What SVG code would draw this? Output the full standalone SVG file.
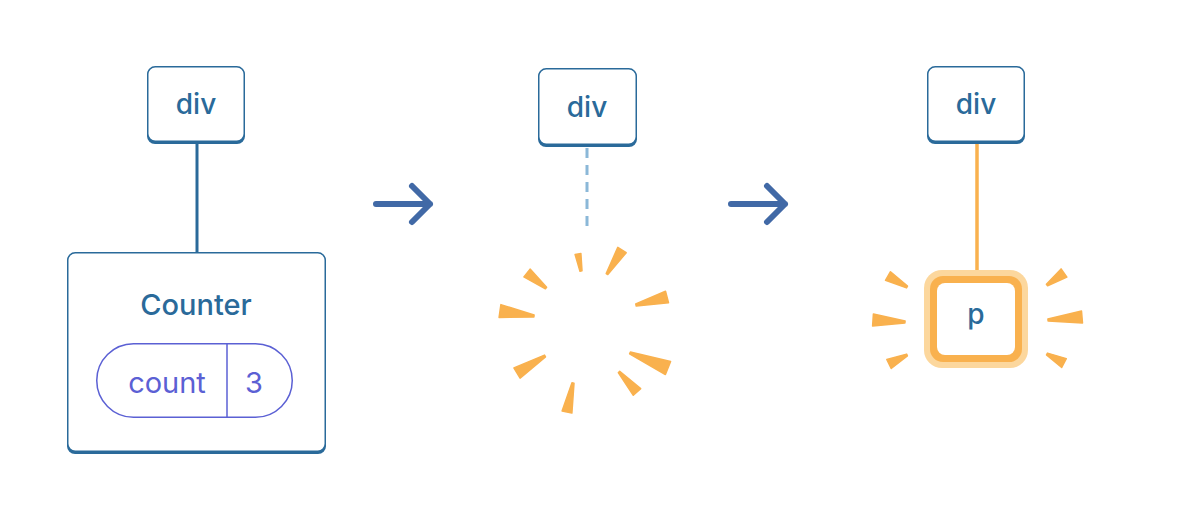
<svg xmlns="http://www.w3.org/2000/svg" width="1200" height="515" viewBox="0 0 1200 515">
<defs>
<style>
.nodeShadow{fill:#2a6a9a}
.nodeBox{fill:#ffffff;stroke:#2a6a9a;stroke-width:1.5}
.nodeText{font-family:Inter,"Open Sans","Liberation Sans",sans-serif;font-size:28px;fill:#2a6a9a;text-anchor:middle;font-weight:500}
.title{font-size:29px}
.pill{fill:#ffffff;stroke:#5b60d4;stroke-width:1.5}
.pillText{font-family:Inter,"Open Sans","Liberation Sans",sans-serif;font-size:29px;fill:#5b60d4;text-anchor:middle}
.edge{stroke:#2a6a9a;stroke-width:3;fill:none}
.edgeDash{stroke:#8bb8d8;stroke-width:3;fill:none;stroke-dasharray:10 7}
.edgeNew{stroke:#f9b14e;stroke-width:3.5;fill:none}
.step{stroke:#4169a6;stroke-width:6;fill:none;stroke-linecap:round;stroke-linejoin:round}
.spark{fill:#f9b14e;stroke:#f9b14e;stroke-width:1.5;stroke-linejoin:round}
</style>
</defs>
<rect width="1200" height="515" fill="#ffffff"/>

<g id="connectors">
<line class="edge" x1="197" y1="142" x2="197" y2="253"/>
<line class="edgeDash" x1="587" y1="148" x2="587" y2="232"/>
<line class="edgeNew" x1="977" y1="143" x2="977" y2="278"/>
<path class="step" d="M376,204 H430 M412,186 L430,204 L412,222"/>
<path class="step" d="M731,204 H785 M767,186 L785,204 L767,222"/>
</g>

<g id="div-left">
<rect class="nodeShadow" x="147" y="67" width="98" height="77" rx="8"/>
<rect class="nodeBox" x="147.75" y="66.75" width="96.5" height="74.5" rx="7.5"/>
<text class="nodeText" x="196" y="114">div</text>
</g>

<g id="counter">
<rect class="nodeShadow" x="67" y="253" width="259" height="201" rx="8"/>
<rect class="nodeBox" x="67.75" y="252.75" width="257.5" height="198.5" rx="7.5"/>
<text class="nodeText title" x="196" y="315">Counter</text>
<g id="count-state">
<rect class="pill" x="96.75" y="343.75" width="195.5" height="73.5" rx="36.75"/>
<line x1="227" y1="344" x2="227" y2="417" stroke="#5b60d4" stroke-width="1.5"/>
<text class="pillText" x="167" y="393">count</text>
<text class="pillText" x="254" y="393">3</text>
</g>
</g>

<g id="div-middle">
<rect class="nodeShadow" x="538" y="69" width="99" height="78" rx="8"/>
<rect class="nodeBox" x="538.75" y="68.75" width="97.5" height="75.5" rx="7.5"/>
<text class="nodeText" x="587" y="117">div</text>
</g>

<g id="burst-removed">
<polygon class="spark" points="582,270.8 580.9,253.5 575.1,254.5 580,271.2"/>
<polygon class="spark" points="607.8,274.5 626.2,252.7 617.8,247.3 606.2,273.5"/>
<polygon class="spark" points="636.25,306 668.5,302.8 665.5,291.2 635.75,304"/>
<polygon class="spark" points="629.6,353.9 665.4,374.5 670.6,361.5 630.4,352.1"/>
<polygon class="spark" points="618.3,372.7 633.3,395.3 640.7,388.7 619.7,371.3"/>
<polygon class="spark" points="572,382.8 562.1,411 571.9,413 574,383.2"/>
<polygon class="spark" points="544.5,355.1 513.9,367.9 520.1,378.1 545.5,356.9"/>
<polygon class="spark" points="534.1,315 500.9,304.6 499.1,317.4 533.9,317"/>
<polygon class="spark" points="546.6,287.2 530.1,269.1 523.9,276.9 545.4,288.8"/>
</g>

<g id="div-right">
<rect class="nodeShadow" x="927" y="67" width="98" height="77" rx="8"/>
<rect class="nodeBox" x="927.75" y="66.75" width="96.5" height="74.5" rx="7.5"/>
<text class="nodeText" x="976" y="114">div</text>
</g>

<g id="p-new">
<rect x="924" y="270" width="104" height="98" rx="18" fill="#fcd79d"/>
<rect x="930" y="276" width="92" height="86" rx="13" fill="#f9b14e"/>
<rect x="937" y="283" width="78" height="72" rx="8" fill="#ffffff"/>
<text class="nodeText" x="976" y="324">p</text>
</g>

<g id="burst-new">
<polygon class="spark" points="907.5,286.1 890.5,271.7 885.5,280.3 906.5,287.9"/>
<polygon class="spark" points="905.1,321 873.4,314 872.6,326 904.9,323"/>
<polygon class="spark" points="906.6,354.1 886.8,359.5 891.2,368.5 907.4,355.9"/>
<polygon class="spark" points="1047.6,285.8 1066.9,277.1 1061.1,268.9 1046.4,284.2"/>
<polygon class="spark" points="1048.1,321 1082.5,323 1081.5,311 1047.9,319"/>
<polygon class="spark" points="1046.5,354.9 1061.7,367.4 1066.3,358.6 1047.5,353.1"/>
</g>
</svg>
